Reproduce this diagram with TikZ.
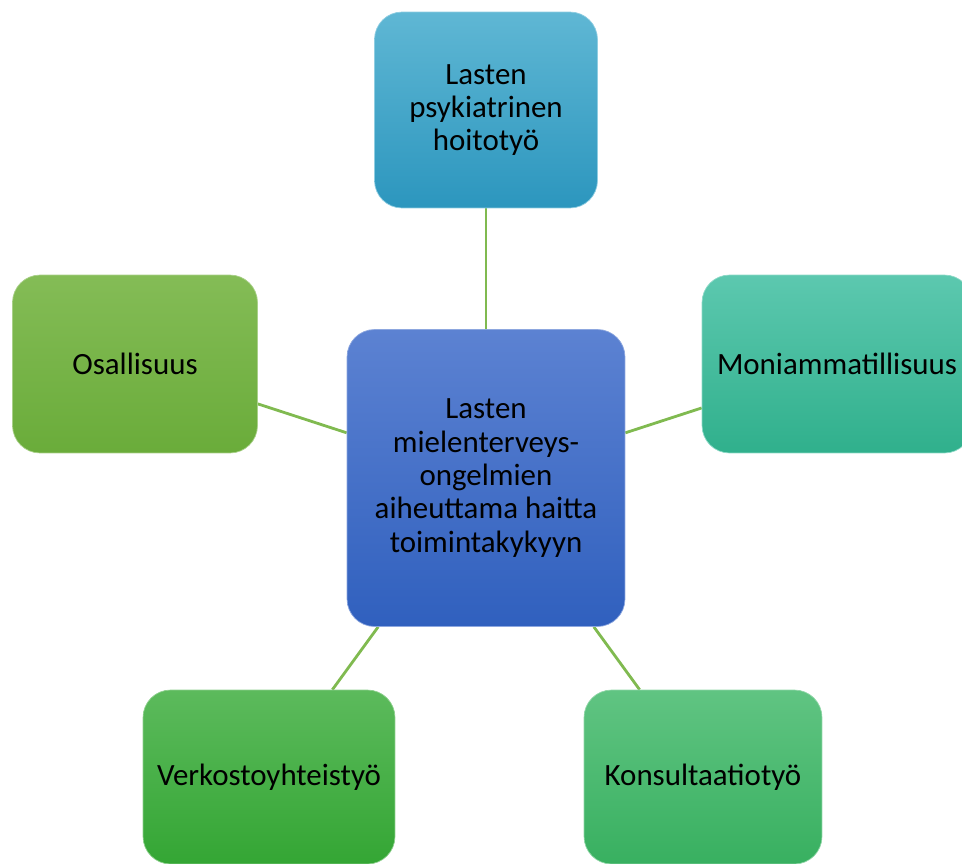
\documentclass[tikz,border=0pt]{standalone}
\usepackage{fontspec}
\setmainfont{Carlito}
\usetikzlibrary{positioning,backgrounds}

\definecolor{linkgreen}{RGB}{128,186,80}
\definecolor{aquatop}{RGB}{95,183,212}
\definecolor{aquabot}{RGB}{44,150,190}
\definecolor{bluetop}{RGB}{92,130,210}
\definecolor{bluebot}{RGB}{48,96,190}
\definecolor{tealtop}{RGB}{92,200,175}
\definecolor{tealbot}{RGB}{48,176,140}
\definecolor{olivetop}{RGB}{132,188,86}
\definecolor{olivebot}{RGB}{106,172,58}
\definecolor{greentop}{RGB}{92,186,92}
\definecolor{greenbot}{RGB}{52,166,52}
\definecolor{mintop}{RGB}{96,196,130}
\definecolor{minbot}{RGB}{56,176,96}

\begin{document}
\begin{tikzpicture}[
  x=0.02cm, y=-0.02cm,
  box/.style={rounded corners=0.55cm, inner sep=2pt, align=center,
    font=\fontsize{17.6}{19}\selectfont, text=black},
  hub/.style={box, top color=bluetop, bottom color=bluebot, draw=bluetop!70!white,
    minimum width=5.56cm, minimum height=5.94cm},
  aquabox/.style={box, top color=aquatop, bottom color=aquabot, draw=aquatop!70!white},
  tealbox/.style={box, top color=tealtop, bottom color=tealbot, draw=tealtop!70!white},
  olivebox/.style={box, top color=olivetop, bottom color=olivebot, draw=olivetop!70!white},
  greenbox/.style={box, top color=greentop, bottom color=greenbot, draw=greentop!70!white},
  mintbox/.style={box, top color=mintop, bottom color=minbot, draw=mintop!70!white},
  link/.style={draw=linkgreen, line width=1.6pt},
]
\clip (0,0) rectangle (962,863);

\node[hub] (hub) at (486,478) {Lasten\\mielenterveys-\\ongelmien\\aiheuttama haitta\\toimintakykyyn};

\node[aquabox, minimum width=4.46cm, minimum height=3.92cm] (hoito) at (486,110) {Lasten\\psykiatrinen\\hoitotyö};
\node[olivebox, minimum width=4.9cm, minimum height=3.56cm] (osall) at (135,364) {Osallisuus};
\node[tealbox, minimum width=5.4cm, minimum height=3.56cm] (moni) at (837,364) {Moniammatillisuus};
\node[greenbox, minimum width=5.04cm, minimum height=3.48cm] (verkosto) at (269,777) {Verkostoyhteistyö};
\node[mintbox, minimum width=4.76cm, minimum height=3.48cm] (konsult) at (703,777) {Konsultaatiotyö};

\begin{scope}[on background layer]
\draw[link] (hub) -- (hoito);
\draw[link] (hub) -- (osall);
\draw[link] (hub) -- (moni);
\draw[link] (hub) -- (verkosto);
\draw[link] (hub) -- (konsult);
\end{scope}
\end{tikzpicture}
\end{document}
